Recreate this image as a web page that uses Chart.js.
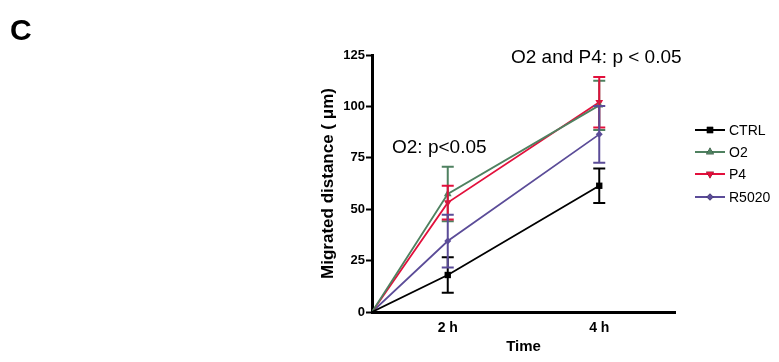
<!DOCTYPE html>
<html>
<head>
<meta charset="utf-8">
<script src="https://cdn.jsdelivr.net/npm/chart.js@4/dist/chart.umd.min.js"></script>
<style>
  html, body { margin: 0; padding: 0; background: #fff; }
  #wrap { width: 779px; height: 362px; position: relative; }
</style>
</head>
<body>
<div id="wrap"><canvas id="migrationChart" width="779" height="362"></canvas></div>
<script>
// x positions: 0 = start, 1 = 2 h, 3 = 4 h (as on the original axis)
const timePositions = [0, 1, 3];
const tickLabels = { 1: '2 h', 3: '4 h' };

const seriesNames = ['CTRL', 'O2', 'P4', 'R5020'];
const ctrlValues = [0, 18, 61.4];
const ctrlErrors = [0, 8.6, 8.4];
const o2Values = [0, 57.4, 100.5];
const o2Errors = [0, 13.3, 12];
const p4Values = [0, 53.2, 102];
const p4Errors = [0, 8.2, 12.3];
const r5020Values = [0, 34.5, 86.4];
const r5020Errors = [0, 12.8, 13.8];

const seriesColors = ['#000000', '#4f8160', '#e2103c', '#5b4c98'];
const seriesMarkers = ['rect', 'triangle', 'triangle', 'rectRot'];

function toPoints(values) {
    return values.map((v, i) => ({ x: timePositions[i], y: v }));
}

const allValues = [ctrlValues, o2Values, p4Values, r5020Values];
const allErrors = [ctrlErrors, o2Errors, p4Errors, r5020Errors];

const datasets = seriesNames.map((name, i) => ({
    label: name,
    data: toPoints(allValues[i]),
    errors: allErrors[i],
    borderColor: seriesColors[i],
    backgroundColor: seriesColors[i],
    borderWidth: 1.8,
    pointStyle: seriesMarkers[i],
    pointRotation: i === 2 ? 180 : 0,
    pointRadius: [0, i === 3 ? 3.5 : 4.5, i === 3 ? 3.5 : 4.5],
    pointBorderWidth: 0,
    tension: 0
}));

const errorBarPlugin = {
    id: 'errorBars',
    afterDatasetsDraw(chart) {
        const ctx = chart.ctx;
        const xs = chart.scales.x, ys = chart.scales.y;
        ctx.save();
        chart.data.datasets.forEach(ds => {
            ctx.strokeStyle = ds.borderColor;
            ctx.lineWidth = 2;
            ds.data.forEach((p, i) => {
                const e = ds.errors[i];
                if (!e) return;
                const px = xs.getPixelForValue(p.x);
                const top = ys.getPixelForValue(p.y + e);
                const bot = ys.getPixelForValue(p.y - e);
                ctx.beginPath();
                ctx.moveTo(px, top); ctx.lineTo(px, bot);
                ctx.moveTo(px - 6, top); ctx.lineTo(px + 6, top);
                ctx.moveTo(px - 6, bot); ctx.lineTo(px + 6, bot);
                ctx.stroke();
            });
        });
        ctx.restore();
    }
};

const decorationPlugin = {
    id: 'decorations',
    afterDraw(chart) {
        const ctx = chart.ctx;
        const ys = chart.scales.y;
        ctx.save();
        // panel letter
        ctx.fillStyle = '#000';
        ctx.font = 'bold 30px "Liberation Sans", Arial, sans-serif';
        ctx.textBaseline = 'alphabetic';
        ctx.textAlign = 'left';
        ctx.fillText('C', 10, 40);
        // significance notes
        ctx.font = '19px "Liberation Sans", Arial, sans-serif';
        ctx.textBaseline = 'middle';
        ctx.fillText('O2: p<0.05', 392, ys.getPixelForValue(80));
        ctx.fillText('O2 and P4: p < 0.05', 511, ys.getPixelForValue(123.5));
        // legend
        ctx.font = '14px "Liberation Sans", Arial, sans-serif';
        const rowY = [130, 152, 174, 197];
        chart.data.datasets.forEach((ds, i) => {
            const y = rowY[i];
            ctx.strokeStyle = ds.borderColor;
            ctx.lineWidth = 2;
            ctx.beginPath();
            ctx.moveTo(695, y); ctx.lineTo(725, y);
            ctx.stroke();
            Chart.helpers.drawPoint(ctx, {
                pointStyle: ds.pointStyle,
                rotation: ds.pointRotation,
                radius: i === 3 ? 3.5 : 4.5,
                borderWidth: 0
            }, 710, y);
            ctx.fillStyle = ds.borderColor;
            ctx.fill();
            ctx.fillStyle = '#000';
            ctx.fillText(ds.label, 729, y + 1);
        });
        ctx.restore();
    }
};

const boldFont = { family: '"Liberation Sans", Arial, sans-serif', size: 13, weight: 'bold' };

new Chart(document.getElementById('migrationChart').getContext('2d'), {
    type: 'line',
    data: { datasets: datasets },
    options: {
        responsive: false,
        animation: false,
        layout: { padding: { left: 314, right: 104, top: 55, bottom: 2 } },
        plugins: {
            legend: { display: false },
            tooltip: { enabled: false }
        },
        scales: {
            x: {
                type: 'linear',
                min: 0,
                max: 4,
                afterBuildTicks(scale) {
                    scale.ticks = [{ value: 1 }, { value: 3 }];
                },
                afterFit(scale) { scale.height = 48; },
                ticks: {
                    color: '#000',
                    font: { ...boldFont, size: 14 },
                    padding: 8,
                    callback: v => tickLabels[v] || ''
                },
                grid: { display: false, drawTicks: false },
                border: { color: '#000', width: 3 },
                title: { display: true, text: 'Time', color: '#000', font: { ...boldFont, size: 15 }, padding: { top: 0 } }
            },
            y: {
                min: 0,
                max: 125,
                afterFit(scale) { scale.width = 58; },
                ticks: { stepSize: 25, color: '#000', font: boldFont, padding: 1 },
                grid: { drawOnChartArea: false, color: '#000', tickLength: 6, tickWidth: 2 },
                border: { color: '#000', width: 3 },
                title: { display: true, text: 'Migrated distance ( \u03bcm)', color: '#000', font: { ...boldFont, size: 17 }, padding: { bottom: 0 } }
            }
        }
    },
    plugins: [errorBarPlugin, decorationPlugin]
});
</script>
</body>
</html>
